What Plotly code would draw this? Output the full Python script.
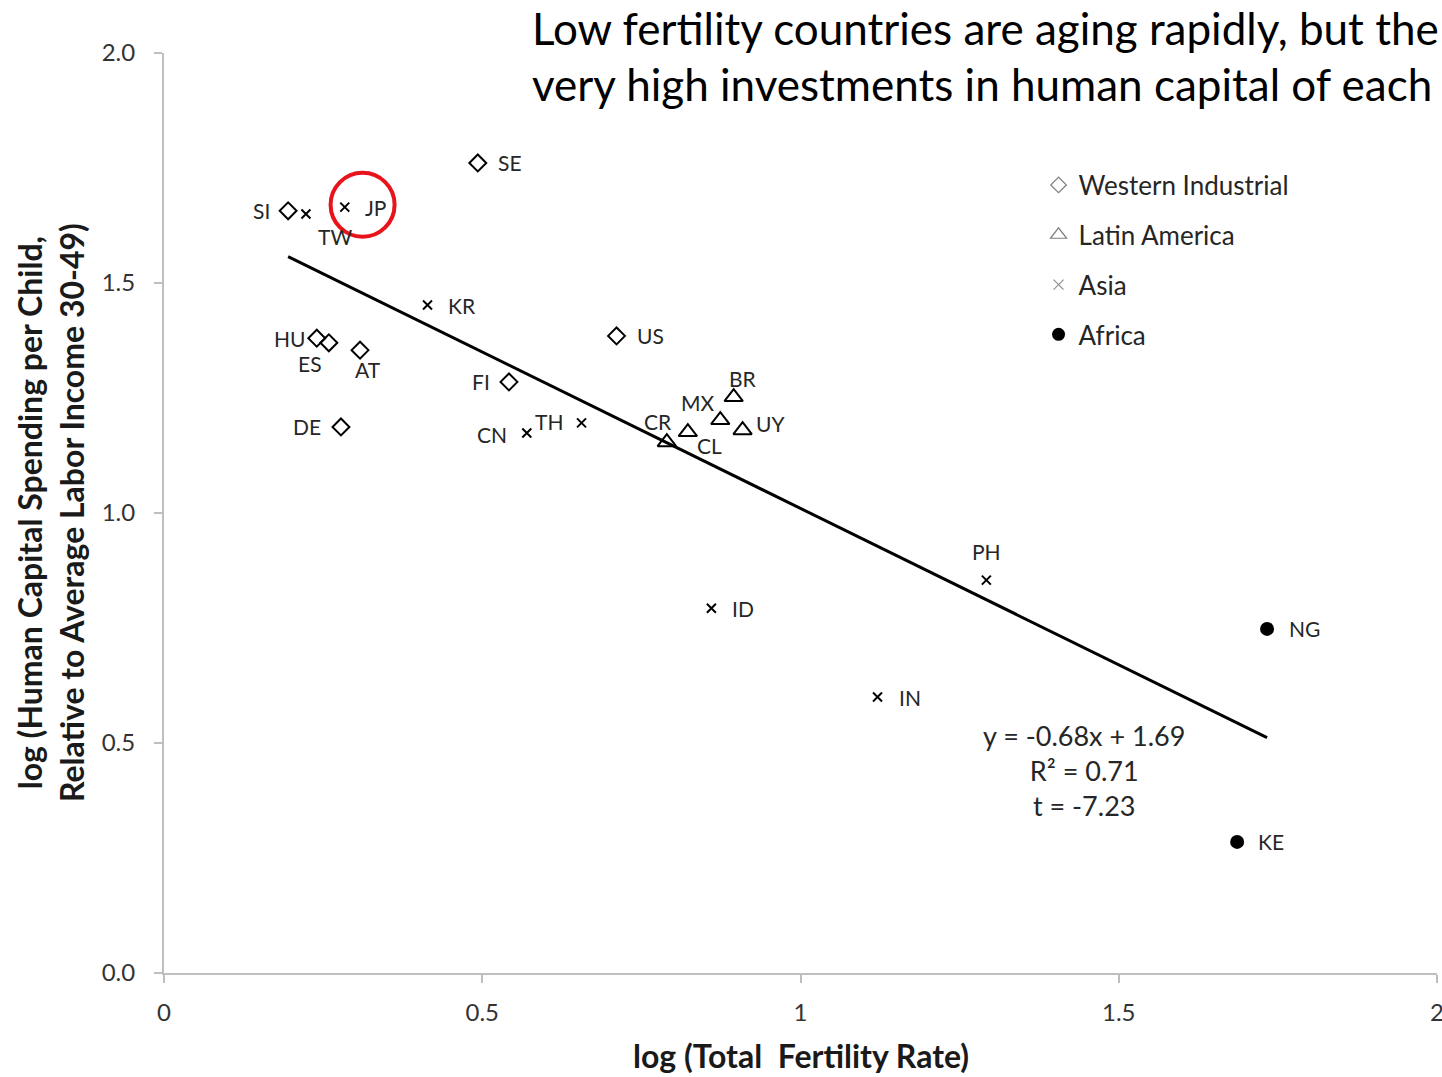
import numpy as np
import plotly.graph_objects as go

# Country data: log total fertility rate vs log human capital spending per child
western_codes = ["SE", "SI", "HU", "ES", "AT", "DE", "FI", "US"]
western_tfr = [0.493, 0.195, 0.240, 0.259, 0.308, 0.278, 0.542, 0.711]
western_hc = [1.761, 1.657, 1.380, 1.370, 1.354, 1.187, 1.285, 1.385]

latam_codes = ["CR", "CL", "MX", "BR", "UY"]
latam_tfr = [0.790, 0.823, 0.874, 0.895, 0.909]
latam_hc = [1.154, 1.176, 1.202, 1.252, 1.180]

asia_codes = ["TW", "JP", "KR", "CN", "TH", "PH", "ID", "IN"]
asia_tfr = [0.223, 0.284, 0.414, 0.570, 0.656, 1.292, 0.860, 1.121]
asia_hc = [1.650, 1.665, 1.452, 1.174, 1.196, 0.854, 0.793, 0.600]

africa_codes = ["NG", "KE"]
africa_tfr = [1.733, 1.686]
africa_hc = [0.748, 0.285]

# Regression summary
slope = -0.68
intercept = 1.69
r_squared = 0.71
t_stat = -7.23

# Axis ticks
x_ticks = [0, 0.5, 1, 1.5, 2]
x_tick_text = ["0", "0.5", "1", "1.5", "2"]
y_ticks = [0, 0.5, 1, 1.5, 2]
y_tick_text = ["0.0", "0.5", "1.0", "1.5", "2.0"]

# Headline lines
headline = ["Low fertility countries are aging rapidly, but the",
            "very high investments in human capital of each"]

# Label placement per country: (xanchor, xshift px, yshift px)
label_pos = {
    "SE": ("left", 18, 0), "SI": ("right", -16, 0), "HU": ("right", -10, 0),
    "ES": ("center", -19, -21), "AT": ("center", 8, -19), "DE": ("right", -18, 0),
    "FI": ("right", -17, 0), "US": ("left", 18, 0),
    "CR": ("center", -9, 21), "CL": ("center", 22, -13), "MX": ("center", -23, 18),
    "BR": ("center", 9, 19), "UY": ("left", 11, 7),
    "TW": ("center", 29, -22), "JP": ("left", 18, 0), "KR": ("left", 18, 0),
    "CN": ("right", -18, -2), "TH": ("center", -33, 1), "PH": ("center", 0, 29),
    "ID": ("left", 19, 0), "IN": ("left", 19, 0),
    "NG": ("left", 20, 0), "KE": ("left", 19, 0),
}

FONT = "Lato, 'Open Sans', sans-serif"
TXT = "#262626"

groups = [
    ("Western Industrial", western_codes, western_tfr, western_hc,
     dict(symbol="diamond-open", size=13, color="black", line=dict(width=2, color="black")),
     dict(symbol="diamond-open", size=12, color="#7f7f7f", line=dict(width=1.2, color="#7f7f7f"))),
    ("Latin America", latam_codes, latam_tfr, latam_hc,
     dict(symbol="triangle-up-open", size=16, color="black", line=dict(width=2, color="black")),
     dict(symbol="triangle-up-open", size=14, color="#7f7f7f", line=dict(width=1.2, color="#7f7f7f"))),
    ("Asia", asia_codes, asia_tfr, asia_hc,
     dict(symbol="x-thin-open", size=9, color="black", line=dict(width=2, color="black")),
     dict(symbol="x-thin-open", size=10, color="#8f8f8f", line=dict(width=1.2, color="#8f8f8f"))),
    ("Africa", africa_codes, africa_tfr, africa_hc,
     dict(symbol="circle", size=14, color="black", line=dict(width=0)),
     dict(symbol="circle", size=13, color="black", line=dict(width=0))),
]

fig = go.Figure()

# Fitted trend line spanning the observed fertility range
all_x = np.array(western_tfr + latam_tfr + asia_tfr + africa_tfr)
line_x = np.array([all_x.min(), all_x.max()])
fig.add_trace(go.Scatter(x=line_x, y=slope * line_x + intercept, mode="lines",
                         line=dict(color="black", width=3), showlegend=False,
                         hoverinfo="skip"))

annotations = []
for i, (name, codes, xs, ys, mk, legend_mk) in enumerate(groups):
    fig.add_trace(go.Scatter(x=xs, y=ys, mode="markers", marker=mk,
                             name=name, showlegend=False, text=codes))
    # legend-only entry with lighter symbol
    fig.add_trace(go.Scatter(x=[None], y=[None], mode="markers", marker=legend_mk,
                             name=name, legendgroup=f"g{i}", showlegend=True))
    for c, xv, yv in zip(codes, xs, ys):
        anc, xs_, ys_ = label_pos[c]
        annotations.append(dict(x=xv, y=yv, text=c, showarrow=False,
                                xanchor=anc, yanchor="middle",
                                xshift=xs_, yshift=ys_,
                                font=dict(size=21, color=TXT, family=FONT)))

# Regression statistics
annotations.append(dict(
    x=1.446, y=0.441, xref="x", yref="y", showarrow=False, align="center",
    text=(f"y = {slope:.2f}x + {intercept:.2f}<br>R² = {r_squared:.2f}"
          f"<br>t = {t_stat:.2f}"),
    font=dict(size=27, color=TXT, family=FONT)))

# Headline, one annotation per line
for k, line in enumerate(headline):
    annotations.append(dict(
        x=0.2875, y=1.0578 - k * 0.0609, xref="paper", yref="paper",
        xanchor="left", yanchor="top", showarrow=False, align="left",
        text=line, font=dict(size=44, color="black", family=FONT)))

# Axis titles
annotations.append(dict(
    x=-0.0895, y=0.5, xref="paper", yref="paper", textangle=-90,
    xanchor="center", yanchor="middle",
    showarrow=False, align="center",
    text=("<b>log (Human Capital Spending per Child,<br>"
          "Relative to Average Labor Income 30-49)</b>"),
    font=dict(size=32, color="#1a1a1a", family=FONT)))
annotations.append(dict(
    x=0.5, y=-0.0902, xref="paper", yref="paper", yanchor="middle",
    showarrow=False, text="<b>log (Total  Fertility Rate)</b>",
    font=dict(size=32, color="#1a1a1a", family=FONT)))

fig.update_layout(
    width=1442, height=1077,
    margin=dict(l=164, r=5, t=53, b=104),
    paper_bgcolor="white", plot_bgcolor="white",
    font=dict(family=FONT, color=TXT),
    annotations=annotations,
    legend=dict(x=0.687, y=0.882, xanchor="left", yanchor="top",
                font=dict(size=26, color=TXT, family=FONT),
                tracegroupgap=13, itemwidth=30, bgcolor="rgba(0,0,0,0)"),
    shapes=[dict(type="circle", xref="x", yref="y",
                 xsizemode="pixel", ysizemode="pixel",
                 xanchor=0.312, yanchor=1.670,
                 x0=-32, x1=32, y0=-32, y1=32,
                 line=dict(color="#e8141b", width=4))],
)

fig.update_xaxes(range=[0, 2], tickvals=x_ticks, ticktext=x_tick_text,
                 showgrid=False, zeroline=False, showline=True, automargin=False,
                 linecolor="#bfbfbf", linewidth=2,
                 ticks="outside", ticklen=8, tickcolor="#bfbfbf", tickwidth=2,
                 ticklabelstandoff=9, ticklabeloverflow="allow",
                 tickfont=dict(size=24, color="#333333", family=FONT))
fig.update_yaxes(range=[0, 2], tickvals=y_ticks, ticktext=y_tick_text,
                 showgrid=False, zeroline=False, showline=True, automargin=False,
                 linecolor="#bfbfbf", linewidth=2,
                 ticks="outside", ticklen=8, tickcolor="#bfbfbf", tickwidth=2,
                 ticklabelstandoff=14,
                 tickfont=dict(size=24, color="#333333", family=FONT))

fig.write_html("out.html")
